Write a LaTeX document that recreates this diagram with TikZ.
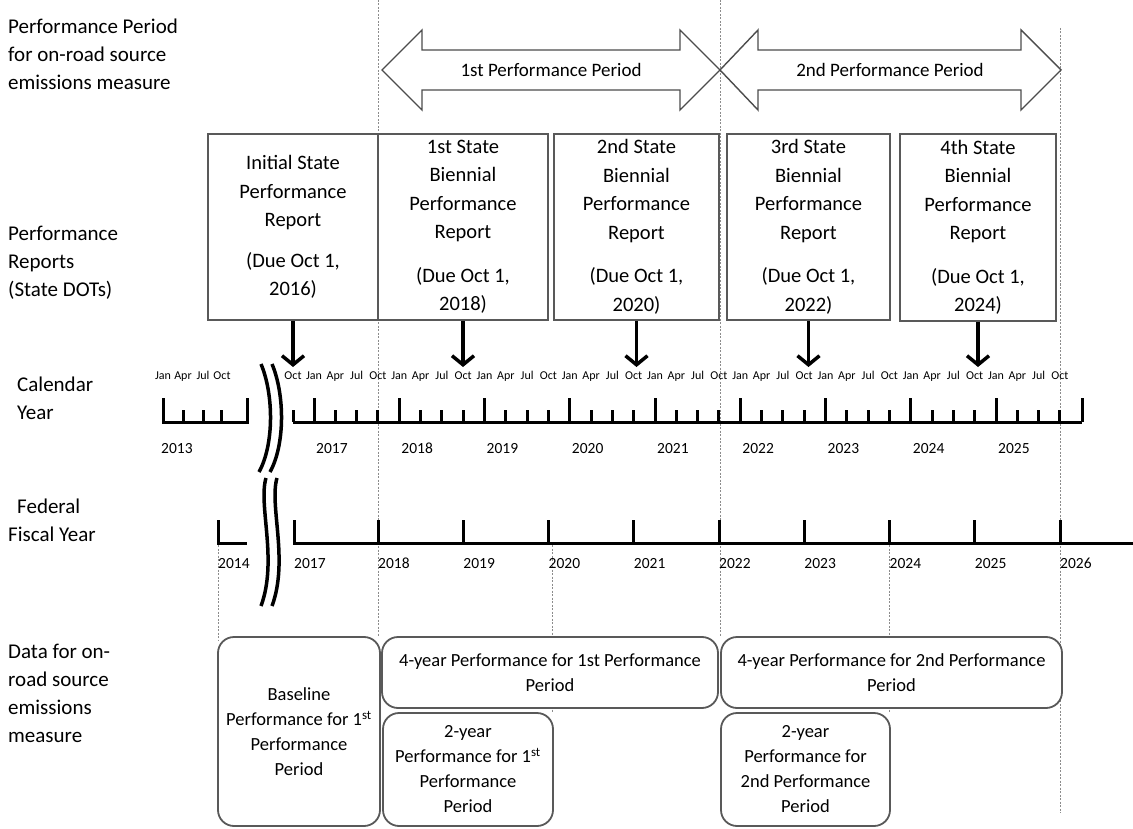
\documentclass[tikz,border=0pt]{standalone}
\usepackage{fontspec}
\setmainfont{Carlito}
\usetikzlibrary{arrows.meta}

\begin{document}
\begin{tikzpicture}[x=1pt,y=-1pt,
    guide/.style={black!45, line width=0.8pt, dash pattern=on 2pt off 1.5pt},
    axis/.style={line width=3pt},
    lbl/.style={anchor=north west, align=left, inner sep=0pt, font=\fontsize{21}{28}\selectfont},
    period/.style={draw=black!70, line width=1.4pt, fill=white},
    ptext/.style={inner sep=0pt, font=\fontsize{19}{22}\selectfont},
    rep/.style={draw=black!65, line width=2pt, fill=white, minimum height=186pt, align=center, inner sep=0pt, font=\fontsize{20.5}{28.5}\selectfont},
    dat/.style={draw=black!65, line width=1.8pt, fill=white, rounded corners=16pt, align=center, inner sep=0pt, font=\fontsize{18.5}{25}\selectfont},
    down/.style={line width=3.5pt, -{Straight Barb[length=9pt,width=22pt]}},
    mon/.style={anchor=base, inner sep=0pt, font=\fontsize{12}{12}\selectfont},
    yr/.style={anchor=base west, inner sep=0pt, font=\fontsize{15.5}{16}\selectfont},
    brk/.style={line width=3.5pt}]
    \useasboundingbox (0,0) rectangle (1133,829);

    \draw[guide] (378,0) -- (378,637);
    \draw[guide] (720,0) -- (720,637);
    \draw[guide] (1060,28) -- (1060,813);
    \draw[guide] (218,545) -- (218,640);
    \draw[guide] (552,545) -- (552,713);
    \draw[guide] (889,545) -- (889,713);

    \node[lbl] (lperiod) at (8,19) {Performance Period\\for on-road source\\emissions measure};
    \node[lbl] (lreports) at (8,226) {Performance\\Reports\\(State DOTs)};
    \node[lbl] (lcal) at (17,377) {Calendar\\Year};
    \node[lbl] (lfed) at (8,499) {\hspace*{9pt}Federal\\Fiscal Year};
    \node[lbl] (ldata) at (8,644) {Data for on-\\road source\\emissions\\measure};

    \draw[period] (382,70) -- (422,30) -- (422,50) -- (680,50) -- (680,30) -- (720,70)
        -- (680,110) -- (680,90) -- (422,90) -- (422,110) -- cycle;
    \node[ptext] (per1) at (551,70) {1st Performance Period};
    \draw[period] (720,70) -- (758,30) -- (758,50) -- (1021,50) -- (1021,30) -- (1061,70)
        -- (1021,110) -- (1021,90) -- (758,90) -- (758,110) -- cycle;
    \node[ptext] (per2) at (890,70) {2nd Performance Period};

    \node[rep, minimum width=170pt] (rep1) at (293,227) {Initial State\\Performance\\Report\\[12pt](Due Oct 1,\\2016)};
    \node[rep, minimum width=170pt] (rep2) at (463,227) {1st State\\Biennial\\Performance\\Report\\[15pt](Due Oct 1,\\2018)};
    \node[rep, minimum width=165pt] (rep3) at (636.5,227) {2nd State\\Biennial\\Performance\\Report\\[15pt](Due Oct 1,\\2020)};
    \node[rep, minimum width=163pt] (rep4) at (808.5,227) {3rd State\\Biennial\\Performance\\Report\\[15pt](Due Oct 1,\\2022)};
    \node[rep, minimum width=156pt] (rep5) at (978,227.5) {4th State\\Biennial\\Performance\\Report\\[15pt](Due Oct 1,\\2024)};

    \coordinate (tips) at (0,367);
    \foreach \r in {rep1,rep2,rep3,rep4,rep5}
        \draw[down] (\r.south) -- (\r.south |- tips);

    % calendar year
    \draw[axis] (163,398) -- (163,422) -- (247,422) -- (247,398);
    \foreach \x in {183,203,221}
        \draw[axis] (\x,410) -- (\x,422);
    \foreach \x/\m in {163/Jan,183/Apr,203/Jul,222/Oct}
        \node[mon] (\m2013) at (\x,379) {\m};
    \node[yr] (cy2013) at (161,453) {2013};

    \draw[axis] (293,422) -- (1082,422);
    \draw[axis] (293,410) -- (293,422);
    \draw[axis] (1082,398) -- (1082,422);
    \node[mon] (Oct2016) at (293,379) {Oct};
    \foreach \yr in {2017,...,2025} {
        \pgfmathsetmacro\xj{314+85.25*(\yr-2017)}
        \draw[axis] (\xj,398) -- (\xj,422);
        \foreach \q in {1,2,3}
            \draw[axis] (\xj+21.31*\q,410) -- (\xj+21.31*\q,422);
        \foreach \q/\m in {0/Jan,1/Apr,2/Jul,3/Oct}
            \node[mon] (\m\yr) at (\xj+21.31*\q,379) {\m};
        \node[yr] (cy\yr) at (\xj+2,453) {\yr};
    }

    % fiscal year
    \draw[axis] (218,520) -- (218,543) -- (247,543);
    \node[yr] (fy2014) at (218,568) {2014};
    \draw[axis] (294,520) -- (294,543) -- (1133,543);
    \node[yr] (fy2017) at (294,568) {2017};
    \foreach \yr in {2018,...,2026} {
        \pgfmathsetmacro\xf{378+85.25*(\yr-2018)}
        \draw[axis] (\xf,520) -- (\xf,543);
        \node[yr] (fy\yr) at (\xf,568) {\yr};
    }

    % break
    \draw[brk] (261,364) .. controls (274,395) and (274,445) .. (259,472);
    \draw[brk] (272,364) .. controls (285,395) and (285,445) .. (270,472);
    \draw[brk] (266,478) .. controls (258,505) and (278,560) .. (261,606);
    \draw[brk] (277,478) .. controls (269,505) and (289,560) .. (272,606);

    \node[dat, minimum width=162pt, minimum height=189pt] (base) at (299,731.5) {Baseline\\Performance for 1\textsuperscript{st}\\Performance\\Period};
    \node[dat, minimum width=336pt, minimum height=71pt] (four1) at (550,672.5) {4-year Performance for 1st Performance\\Period};
    \node[dat, minimum width=170pt, minimum height=113pt] (two1) at (468,769.5) {2-year\\Performance for 1\textsuperscript{st}\\Performance\\Period};
    \node[dat, minimum width=341pt, minimum height=71pt] (four2) at (891.5,672.5) {4-year Performance for 2nd Performance\\Period};
    \node[dat, minimum width=169pt, minimum height=113pt] (two2) at (805.5,769.5) {2-year\\Performance for\\2nd Performance\\Period};
\end{tikzpicture}
\end{document}
